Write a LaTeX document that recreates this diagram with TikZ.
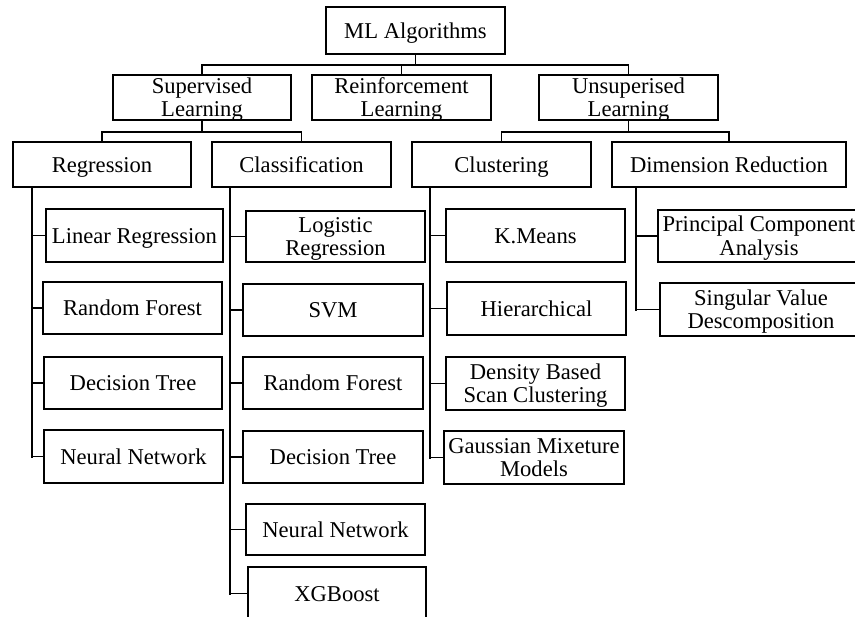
\documentclass[tikz,border=0pt]{standalone}
\usepackage{fontspec}
\setmainfont{Liberation Serif}
\tikzset{
  box/.style={draw, line width=1.9pt, inner sep=0pt, align=center,
    font=\fontsize{22.6}{23.5}\selectfont, text depth=0pt},
  conn/.style={line width=1.9pt, line cap=rect},
  bar/.style={line width=2.7pt, line cap=rect},
}
\newcommand\mybox[7][0]{%
  \node[box, text height={(15.3+#1)*1pt}, minimum width={(#5-#3)*1pt}, minimum height={(#6-#4)*1pt}]
    (#2) at ({(#3+#5)/2},{(#4+#6)/2}) {#7};}
\begin{document}
\begin{tikzpicture}[x=1pt,y=-1pt]
\useasboundingbox (0,0) rectangle (855,617);
\clip (0,0) rectangle (855,617);
\mybox{ml}{326}{7}{505}{54}{ML Algorithms}
\mybox[23.5]{sup}{113}{75}{291}{120}{Supervised\\Learning}
\mybox[23.5]{rei}{312}{75}{491}{120}{Reinforcement\\Learning}
\mybox[23.5]{uns}{539}{75}{718}{120}{Unsuperised\\Learning}
\mybox{reg}{13}{142}{191}{187}{Regression}
\mybox{cla}{212}{142}{391}{187}{Classification}
\mybox{clu}{412}{142}{591}{187}{Clustering}
\mybox{dim}{612}{142}{846}{187}{Dimension Reduction}
\mybox{lr}{46}{209}{223}{262}{Linear Regression}
\mybox{rf1}{43}{282}{222}{334}{Random Forest}
\mybox{dt1}{44}{357}{222}{409}{Decision Tree}
\mybox{nn1}{44}{430}{223}{483}{Neural Network}
\mybox[23.5]{log}{246}{211}{425}{262}{Logistic\\Regression}
\mybox{svm}{243}{284}{423}{336}{SVM}
\mybox{rf2}{243}{357}{423}{409}{Random Forest}
\mybox{dt2}{243}{431}{423}{483}{Decision Tree}
\mybox{nn2}{246}{504}{425}{555}{Neural Network}
\mybox{xgb}{248}{567}{426}{620}{XGBoost}
\mybox{km}{446}{209}{625}{262}{K.Means}
\mybox{hie}{447}{282}{626}{335}{Hierarchical}
\mybox[23.5]{dbs}{446}{357}{625}{410}{Density Based\\Scan Clustering}
\mybox[23.5]{gmm}{444}{431}{624}{484}{Gaussian Mixeture\\Models}
\mybox[23.5]{pca}{658}{210}{860}{262}{Principal Component\\Analysis}
\mybox[23.5]{svd}{660}{283}{862}{336}{Singular Value\\Descomposition}
% level 1
\coordinate (b1) at (416,65);
\draw[conn] (ml.south) -- (ml.south |- b1);
\draw[conn] (sup.north) |- (uns.north |- b1) -- (uns.north);
\draw[conn] (rei.north) -- (rei.north |- b1);
% level 2
\coordinate (b2) at (0,132);
\draw[conn] (sup.south) -- (sup.south |- b2);
\draw[conn] (reg.north) |- (cla.north |- b2) -- (cla.north);
\draw[conn] (uns.south) -- (uns.south |- b2);
\draw[conn] (clu.north) |- (dim.north |- b2) -- (dim.north);
% level 3
\coordinate (rx) at (32,0);
\coordinate (cx) at (230,0);
\coordinate (ux) at (430,0);
\coordinate (dx) at (636,0);
\draw[bar] (reg.south -| rx) -- (nn1.west -| rx);
\foreach \n in {lr,rf1,dt1,nn1} \draw[conn] (\n.west -| rx) -- (\n.west);
\draw[bar] (cla.south -| cx) -- (xgb.west -| cx);
\foreach \n in {log,svm,rf2,dt2,nn2,xgb} \draw[conn] (\n.west -| cx) -- (\n.west);
\draw[bar] (clu.south -| ux) -- (gmm.west -| ux);
\foreach \n in {km,hie,dbs,gmm} \draw[conn] (\n.west -| ux) -- (\n.west);
\draw[bar] (dim.south -| dx) -- (svd.west -| dx);
\foreach \n in {pca,svd} \draw[conn] (\n.west -| dx) -- (\n.west);
\end{tikzpicture}
\end{document}
